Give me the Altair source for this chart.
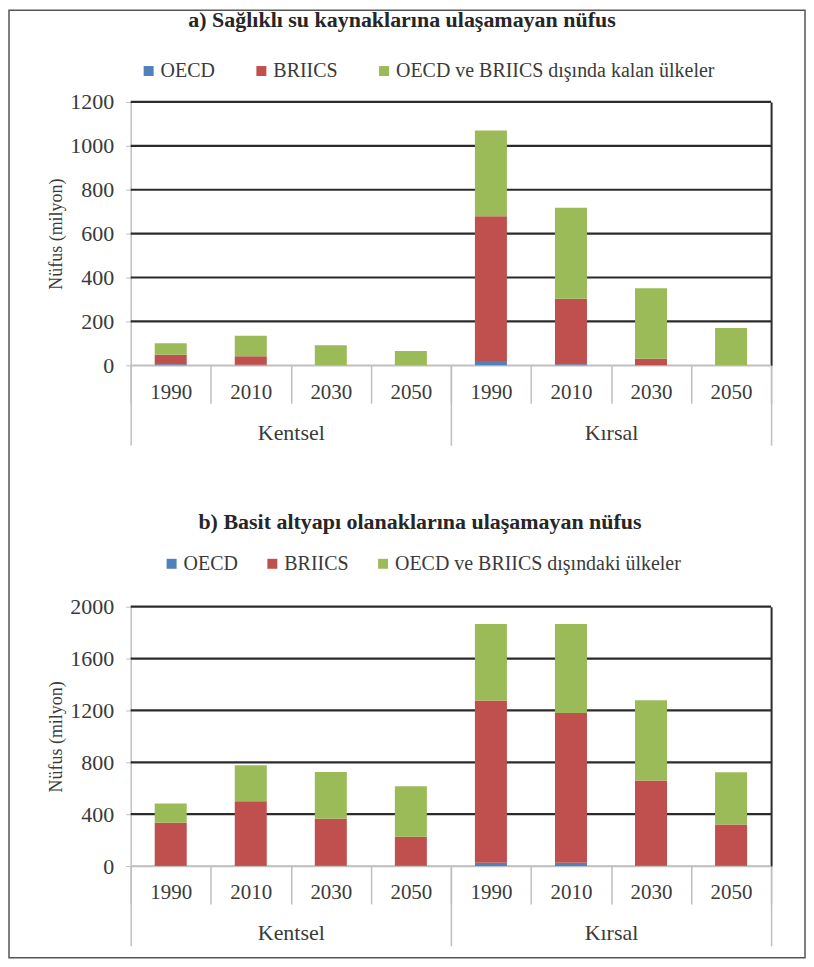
import altair as alt
import pandas as pd

# ---- data ----
groups = ["Kentsel", "Kırsal"]
years = ["1990", "2010", "2030", "2050"]

series_a = ["OECD", "BRIICS", "OECD ve BRIICS dışında kalan ülkeler"]
a_oecd = [5, 2, 0, 0, 20, 5, 0, 0]
a_briics = [43, 39, 0, 0, 659, 298, 30, 0]
a_other = [52, 94, 91, 65, 391, 415, 321, 170]
a_ticks = [0, 200, 400, 600, 800, 1000, 1200]

series_b = ["OECD", "BRIICS", "OECD ve BRIICS dışındaki ülkeler"]
b_oecd = [8, 8, 3, 3, 25, 25, 3, 3]
b_briics = [325, 492, 361, 222, 1252, 1155, 656, 318]
b_other = [149, 277, 361, 390, 590, 687, 620, 402]
b_ticks = [0, 400, 800, 1200, 1600, 2000]

title_a = "a) Sağlıklı su kaynaklarına ulaşamayan nüfus"
title_b = "b) Basit altyapı olanaklarına ulaşamayan nüfus"
y_title = "Nüfus (milyon)"

colors = ["#4F81BD", "#C0504D", "#9BBB59"]
FONT = "Liberation Serif"
TXT = "#3a3a3a"
GRAY = "#bfbfbf"
DARK = "#2b2b2b"

W = 642


def build_table(series, cols):
    rows = []
    keys = []
    for gi, g in enumerate(groups):
        for yi, y in enumerate(years):
            k = g + "|" + y
            keys.append(k)
            i = gi * len(years) + yi
            for si, s in enumerate(series):
                rows.append({"key": k, "group": g, "year": y, "series": s,
                             "idx": si, "value": cols[si][i]})
    return pd.DataFrame(rows), keys


def panel(series, cols, ticks, height, title, title_dx, title_offset,
          legend_x, legend_y, col_pad, frame=False):
    df, keys = build_table(series, cols)
    ymax = ticks[-1]
    yscale = alt.Scale(domain=[0, ymax], nice=False, zero=True)

    grid = alt.Chart(pd.DataFrame({"v": ticks})).mark_rule().encode(
        y=alt.Y("v:Q", scale=yscale,
                axis=alt.Axis(orient="right", labels=False, ticks=False,
                              grid=False, title=None, domainColor=DARK,
                              domainWidth=2)),
        color=alt.condition(alt.datum.v == 0, alt.value(GRAY), alt.value(DARK)),
        strokeWidth=alt.condition(alt.datum.v == 0, alt.value(1.5), alt.value(2.2)),
    )

    grp = alt.Chart(pd.DataFrame({"group": groups})).mark_point(opacity=0).encode(
        x=alt.X("group:N", sort=groups,
                scale=alt.Scale(type="band", paddingInner=0, paddingOuter=0),
                axis=alt.Axis(orient="bottom", title=None, domain=False,
                              tickBand="extent", tickSize=80, tickColor=GRAY,
                              tickWidth=1.5, labelAngle=0, labelPadding=-23,
                              labelFont=FONT, labelFontSize=22,
                              labelColor=TXT, grid=False)),
        y=alt.value(0),
    )

    bars = alt.Chart(df).mark_bar(width=alt.RelativeBandSize(0.4)).encode(
        x=alt.X("key:N", sort=keys,
                scale=alt.Scale(paddingInner=0, paddingOuter=0),
                axis=alt.Axis(orient="bottom", title=None, tickBand="extent",
                              tickSize=38, tickColor=GRAY, tickWidth=1.5,
                              domainColor=GRAY, domainWidth=1.5,
                              labelExpr="split(datum.value, '|')[1]",
                              labelAngle=0, labelPadding=-22, labelFont=FONT,
                              labelFontSize=21, labelColor=TXT, grid=False)),
        y=alt.Y("value:Q", stack="zero", scale=yscale,
                axis=alt.Axis(orient="left", values=ticks, format="d",
                              grid=False, tickSize=5, tickColor=GRAY,
                              domainColor=GRAY, domainWidth=1.5,
                              labelFont=FONT, labelFontSize=22,
                              labelColor=TXT, labelPadding=12,
                              title=y_title, titleFont=FONT,
                              titleFontSize=18, titleFontWeight="normal",
                              titleColor=TXT, titlePadding=4)),
        color=alt.Color("series:N",
                        scale=alt.Scale(domain=series, range=colors),
                        legend=alt.Legend(orient="none", legendX=legend_x,
                                          legendY=legend_y,
                                          direction="horizontal",
                                          columns=3, title=None,
                                          symbolType="square", symbolSize=100,
                                          symbolStrokeWidth=0, labelFont=FONT,
                                          labelFontSize=20, labelColor=TXT,
                                          labelLimit=0, labelOffset=2,
                                          columnPadding=col_pad)),
        order=alt.Order("idx:Q"),
    )

    layers = []
    if frame:
        layers.append(
            alt.Chart(pd.DataFrame({"f": [0]})).mark_rect(
                fill=None, stroke="#555555", strokeWidth=1.5).encode(
                x=alt.value(-122), x2=alt.value(676),
                y=alt.value(-92), y2=alt.value(858))
        )
    layers += [grid, grp, bars]
    return alt.layer(*layers).resolve_scale(x="independent").resolve_axis(
        x="independent", y="independent").properties(
        width=W, height=height,
        title=alt.TitleParams(title, font=FONT, fontSize=22, fontWeight="bold",
                              color="#262626", anchor="middle", dx=title_dx,
                              offset=title_offset))


top = panel(series_a, [a_oecd, a_briics, a_other], a_ticks, 264, title_a,
            -49, -23, 8, -41, 36, frame=True)
bottom = panel(series_b, [b_oecd, b_briics, b_other], b_ticks, 260, title_b,
               -31, 20, 31, -53, 24)

chart = alt.vconcat(top, bottom, spacing=242, bounds="flush").resolve_scale(
    color="independent").properties(padding=0).configure_view(stroke=None)

chart.save("out.html", embed_options={"renderer": "svg", "actions": False})
